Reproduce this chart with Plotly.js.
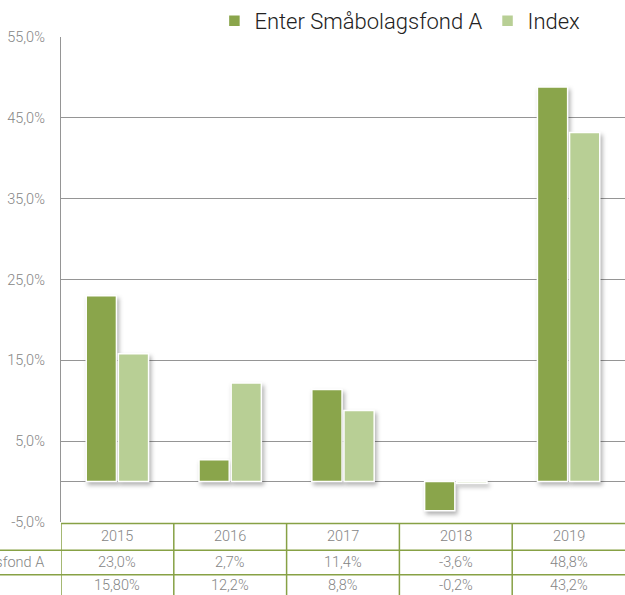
<!DOCTYPE html>
<html>
<head>
<meta charset="utf-8">
<script src="https://cdn.plot.ly/plotly-3.0.1.min.js"></script>
<style>
html,body{margin:0;padding:0;background:#fff;}
#chart{width:625px;height:595px;}
.barlayer .point path{filter:drop-shadow(2px 3px 2px rgba(0,0,0,0.3));}
</style>
</head>
<body>
<div id="chart"></div>
<script>
const years = ['2015', '2016', '2017', '2018', '2019'];
const fundName = 'Enter Småbolagsfond A';
const indexName = 'Index';
const fundValues = [23.0, 2.7, 11.4, -3.6, 48.8];
const indexValues = [15.8, 12.2, 8.8, -0.2, 43.2];
const fundLabels = ['23,0%', '2,7%', '11,4%', '-3,6%', '48,8%'];
const indexLabels = ['15,80%', '12,2%', '8,8%', '-0,2%', '43,2%'];
const yTickVals = [-5, 5, 15, 25, 35, 45, 55];
const yTickText = ['-5,0%', '5,0%', '15,0%', '25,0%', '35,0%', '45,0%', '55,0%'];

const FONT = 'Roboto, "Liberation Sans", sans-serif';
const darkGreen = '#8AA54B';
const lightGreen = '#B8CF95';
const tableLine = '#87A145';
const grey = '#858585';
const labelFont = {family: FONT, size: 14.5, color: grey, weight: 300};

const traces = [
  {type: 'bar', name: fundName, x: years, y: fundValues,
   marker: {color: darkGreen, line: {color: '#ffffff', width: 1.5}}, hoverinfo: 'none'},
  {type: 'bar', name: indexName, x: years, y: indexValues,
   marker: {color: lightGreen, line: {color: '#ffffff', width: 1.5}}, hoverinfo: 'none'}
];

// table rows (paper y)
const rowYear = -0.029, rowFund = -0.084, rowIndex = -0.131;
const annotations = [];
years.forEach((yr, i) => {
  annotations.push({xref: 'x', yref: 'paper', x: i, y: rowYear, text: yr, showarrow: false,
    font: labelFont, yanchor: 'middle'});
  annotations.push({xref: 'x', yref: 'paper', x: i, y: rowFund, text: fundLabels[i], showarrow: false,
    font: labelFont, yanchor: 'middle'});
  annotations.push({xref: 'x', yref: 'paper', x: i, y: rowIndex, text: indexLabels[i], showarrow: false,
    font: labelFont, yanchor: 'middle'});
});
annotations.push({xref: 'paper', yref: 'paper', x: -0.026, y: rowFund, text: fundName, showarrow: false,
  xanchor: 'right', yanchor: 'middle', font: labelFont});

const shapes = [];
shapes.push({type: 'line', xref: 'paper', yref: 'paper', x0: 0, x1: 1.05, y0: -0.003, y1: -0.003,
  line: {color: tableLine, width: 1.5}});
[-0.058, -0.109].forEach(yy => {
  shapes.push({type: 'line', xref: 'paper', yref: 'paper', x0: -0.2, x1: 1.05, y0: yy, y1: yy,
    line: {color: tableLine, width: 1.5}});
});
for (let i = 0; i < years.length; i++) {
  shapes.push({type: 'line', xref: 'x', yref: 'paper', x0: i - 0.5, x1: i - 0.5, y0: -0.003, y1: -0.2,
    line: {color: tableLine, width: 1.5}});
}

const layout = {
  width: 625, height: 595,
  margin: {l: 61, r: 0, t: 36, b: 73},
  paper_bgcolor: '#ffffff', plot_bgcolor: '#ffffff',
  separators: ', ',
  barmode: 'group', bargap: 0.43, bargroupgap: 0.06,
  font: {family: FONT, color: grey},
  showlegend: true,
  legend: {orientation: 'h', x: 0.272, xanchor: 'left', y: 0.99, yanchor: 'bottom',
    font: {family: FONT, size: 22, color: '#222222', weight: 300}, traceorder: 'normal', itemwidth: 30},
  xaxis: {type: 'category', range: [-0.5, 4.5], showticklabels: false, showgrid: false,
    zeroline: false, showline: false, ticks: ''},
  yaxis: {range: [-5, 55], tickmode: 'array', tickvals: yTickVals, ticktext: yTickText,
    showgrid: true, gridcolor: '#959595', gridwidth: 1.2, zeroline: true, zerolinecolor: '#959595', zerolinewidth: 1.2,
    showline: true, linecolor: '#959595', linewidth: 1.2, ticks: '', ticklabelstandoff: 12,
    tickfont: labelFont},
  annotations: annotations,
  shapes: shapes
};

Plotly.newPlot('chart', traces, layout, {displayModeBar: false, staticPlot: true});
</script>
</body>
</html>
